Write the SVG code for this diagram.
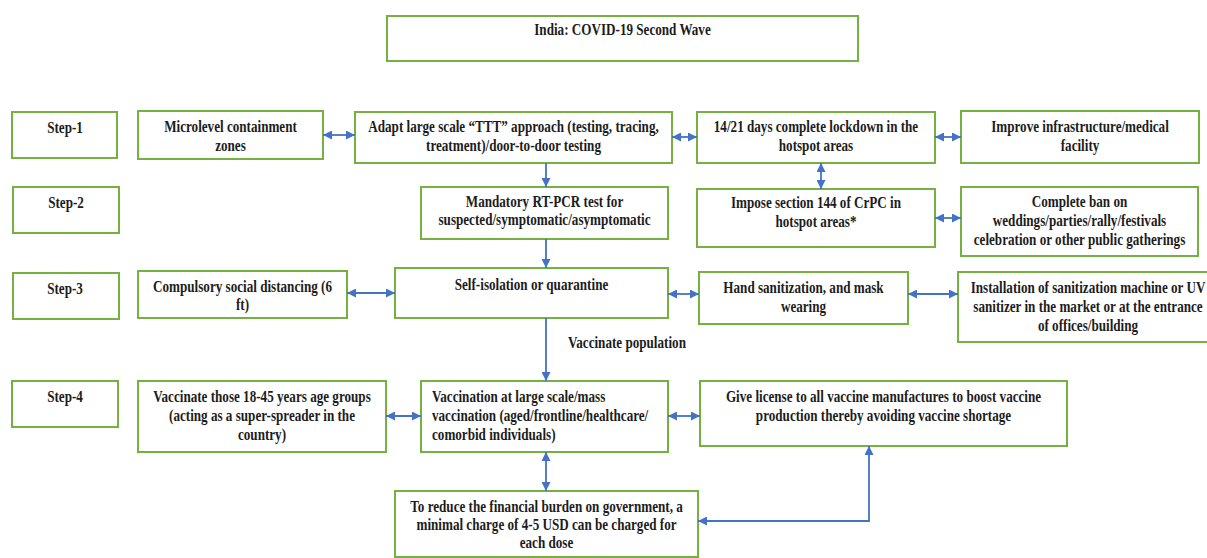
<svg xmlns="http://www.w3.org/2000/svg" width="1207" height="558" viewBox="0 0 1207 558">
<style>
.box{fill:#fff;stroke:#76B041;stroke-width:2}
.t{font-family:"Liberation Serif","Times New Roman","DejaVu Serif",serif;font-weight:bold;font-size:16px;fill:#1c1c1c;text-anchor:middle}
.l{text-anchor:start}
.c{stroke:#4472C4;stroke-width:1.8;fill:none}
</style>
<defs>
<marker id="ah" viewBox="0 0 10 10" refX="10" refY="5" markerWidth="10" markerHeight="9" markerUnits="userSpaceOnUse" orient="auto-start-reverse">
<path d="M0,0 L10,5 L0,10 z" fill="#4472C4"/>
</marker>
</defs>
<rect width="1207" height="558" fill="#fff"/>

<g id="title">
<rect class="box" x="387" y="16" width="471" height="45"/>
<text class="t" transform="translate(622.5 0) scale(0.82 1)"><tspan x="0" y="35">India: COVID-19 Second Wave</tspan></text>
</g>

<g id="step1"><rect class="box" x="12" y="112" width="105" height="46"/>
<text class="t" transform="translate(65 0) scale(0.82 1)"><tspan x="0" y="133">Step-1</tspan></text></g>
<g id="step2"><rect class="box" x="13" y="187" width="106" height="46"/>
<text class="t" transform="translate(66 0) scale(0.82 1)"><tspan x="0" y="208">Step-2</tspan></text></g>
<g id="step3"><rect class="box" x="13" y="273" width="106" height="46"/>
<text class="t" transform="translate(65 0) scale(0.82 1)"><tspan x="0" y="294">Step-3</tspan></text></g>
<g id="step4"><rect class="box" x="12" y="381" width="106" height="46"/>
<text class="t" transform="translate(65 0) scale(0.82 1)"><tspan x="0" y="402">Step-4</tspan></text></g>

<g id="microlevel"><rect class="box" x="138" y="111" width="185" height="48"/>
<text class="t" transform="translate(230.5 0) scale(0.82 1)"><tspan x="0" y="132">Microlevel containment</tspan><tspan x="0" y="151">zones</tspan></text></g>

<g id="ttt"><rect class="box" x="355" y="112" width="317" height="51"/>
<text class="t" transform="translate(513.5 0) scale(0.82 1)"><tspan x="0" y="132">Adapt large scale “TTT” approach (testing, tracing,</tspan><tspan x="0" y="151">treatment)/door-to-door testing</tspan></text></g>

<g id="lockdown"><rect class="box" x="697" y="112" width="238" height="51"/>
<text class="t" transform="translate(816 0) scale(0.82 1)"><tspan x="0" y="132">14/21 days complete lockdown in the</tspan><tspan x="0" y="151">hotspot areas</tspan></text></g>

<g id="improve"><rect class="box" x="961" y="111" width="238" height="52"/>
<text class="t" transform="translate(1080 0) scale(0.82 1)"><tspan x="0" y="132">Improve infrastructure/medical</tspan><tspan x="0" y="151">facility</tspan></text></g>

<g id="mandatory"><rect class="box" x="421" y="187" width="247" height="52"/>
<text class="t" transform="translate(544.5 0) scale(0.82 1)"><tspan x="0" y="207">Mandatory RT-PCR test for</tspan><tspan x="0" y="225">suspected/symptomatic/asymptomatic</tspan></text></g>

<g id="impose"><rect class="box" x="697" y="189" width="238" height="58"/>
<text class="t" transform="translate(816 0) scale(0.82 1)"><tspan x="0" y="208">Impose section 144 of CrPC in</tspan><tspan x="0" y="227">hotspot areas*</tspan></text></g>

<g id="ban"><rect class="box" x="961" y="187" width="237" height="69"/>
<text class="t" transform="translate(1079.5 0) scale(0.82 1)"><tspan x="0" y="207">Complete ban on</tspan><tspan x="0" y="226">weddings/parties/rally/festivals</tspan><tspan x="0" y="245">celebration or other public gatherings</tspan></text></g>

<g id="compulsory"><rect class="box" x="138" y="271" width="209" height="47"/>
<text class="t" transform="translate(242.5 0) scale(0.82 1)"><tspan x="0" y="292">Compulsory social distancing (6</tspan><tspan x="0" y="310">ft)</tspan></text></g>

<g id="selfisolation"><rect class="box" x="395" y="268" width="273" height="50"/>
<text class="t" transform="translate(531.5 0) scale(0.82 1)"><tspan x="0" y="290">Self-isolation or quarantine</tspan></text></g>

<g id="hand"><rect class="box" x="699" y="272" width="209" height="52"/>
<text class="t" transform="translate(803.5 0) scale(0.82 1)"><tspan x="0" y="293">Hand sanitization, and mask</tspan><tspan x="0" y="312">wearing</tspan></text></g>

<g id="installation"><rect class="box" x="958" y="272" width="260" height="70"/>
<text class="t" transform="translate(1088 0) scale(0.82 1)"><tspan x="0" y="293">Installation of sanitization machine or UV</tspan><tspan x="0" y="312">sanitizer in the market or at the entrance</tspan><tspan x="0" y="331">of offices/building</tspan></text></g>

<g id="vaccinate"><rect class="box" x="138" y="381" width="248" height="71"/>
<text class="t" transform="translate(262 0) scale(0.82 1)"><tspan x="0" y="402">Vaccinate those 18-45 years age groups</tspan><tspan x="0" y="421">(acting as a super-spreader in the</tspan><tspan x="0" y="440">country)</tspan></text></g>

<g id="vaccination"><rect class="box" x="421" y="381" width="247" height="71"/>
<text class="t l" transform="translate(432 0) scale(0.82 1)"><tspan x="0" y="402">Vaccination at large scale/mass</tspan><tspan x="0" y="421">vaccination (aged/frontline/healthcare/</tspan><tspan x="0" y="440">comorbid individuals)</tspan></text></g>

<g id="license"><rect class="box" x="700" y="381" width="367" height="65"/>
<text class="t" transform="translate(883.5 0) scale(0.82 1)"><tspan x="0" y="402">Give license to all vaccine manufactures to boost vaccine</tspan><tspan x="0" y="421">production thereby avoiding vaccine shortage</tspan></text></g>

<g id="reduce"><rect class="box" x="395" y="491" width="303" height="66"/>
<text class="t" transform="translate(546.5 0) scale(0.82 1)"><tspan x="0" y="512">To reduce the financial burden on government, a</tspan><tspan x="0" y="530">minimal charge of 4-5 USD can be charged for</tspan><tspan x="0" y="548">each dose</tspan></text></g>

<g id="connectors">
<line class="c" x1="323" y1="135" x2="355" y2="135" marker-start="url(#ah)" marker-end="url(#ah)"/>
<line class="c" x1="672" y1="137" x2="697" y2="137" marker-start="url(#ah)" marker-end="url(#ah)"/>
<line class="c" x1="935" y1="137" x2="961" y2="137" marker-start="url(#ah)" marker-end="url(#ah)"/>
<line class="c" x1="546" y1="163" x2="546" y2="187" marker-end="url(#ah)"/>
<line class="c" x1="821" y1="163" x2="821" y2="189" marker-start="url(#ah)" marker-end="url(#ah)"/>
<line class="c" x1="935" y1="218" x2="961" y2="218" marker-start="url(#ah)" marker-end="url(#ah)"/>
<line class="c" x1="546" y1="239" x2="546" y2="268" marker-end="url(#ah)"/>
<line class="c" x1="347" y1="293" x2="395" y2="293" marker-start="url(#ah)" marker-end="url(#ah)"/>
<line class="c" x1="668" y1="294" x2="699" y2="294" marker-start="url(#ah)" marker-end="url(#ah)"/>
<line class="c" x1="908" y1="294" x2="958" y2="294" marker-start="url(#ah)" marker-end="url(#ah)"/>
<line class="c" x1="546" y1="318" x2="546" y2="381" marker-end="url(#ah)"/>
<text class="t l" transform="translate(568 0) scale(0.82 1)"><tspan x="0" y="348">Vaccinate population</tspan></text>
<line class="c" x1="386" y1="416" x2="421" y2="416" marker-start="url(#ah)" marker-end="url(#ah)"/>
<line class="c" x1="668" y1="416" x2="700" y2="416" marker-start="url(#ah)" marker-end="url(#ah)"/>
<line class="c" x1="546" y1="452" x2="546" y2="491" marker-start="url(#ah)" marker-end="url(#ah)"/>
<polyline class="c" points="869,446 869,521 698,521" marker-start="url(#ah)" marker-end="url(#ah)"/>
</g>
</svg>
